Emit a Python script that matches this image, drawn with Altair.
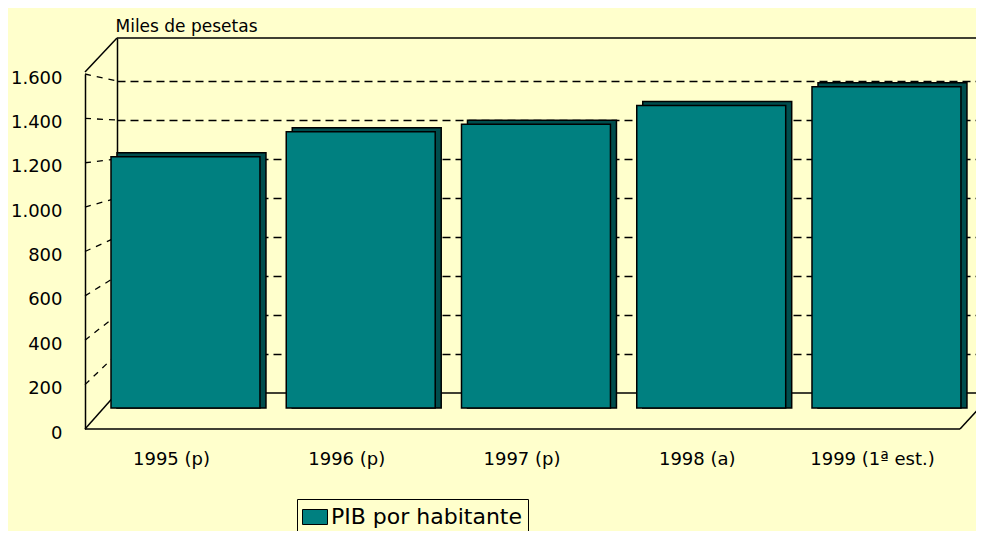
import altair as alt
import pandas as pd

# ---- data ----
years = ["1995 (p)", "1996 (p)", "1997 (p)", "1998 (a)", "1999 (1ª est.)"]
pib = [1220, 1340, 1375, 1465, 1555]
series_name = "PIB por habitante"
y_ticks = [0, 200, 400, 600, 800, 1000, 1200, 1400, 1600]
grid_ticks = [200, 400, 600, 800, 1000, 1200, 1400, 1600]
y_title = "Miles de pesetas"

bars_df = pd.DataFrame({"year": years, "pib": pib, "serie": [series_name] * len(years)})
ticks_df = pd.DataFrame({"v": y_ticks})
grid_df = pd.DataFrame({"v": grid_ticks})
floor_df = pd.DataFrame({"v": [0]})

BG = "#FFFFCC"
TEAL = "#008080"
DARK = "#004D4D"
W, H = 859, 355
FONT = "DejaVu Sans"
FRAME_W = 1.5
DEPTH = 36           # px between front and back floor
BACK_RATIO = 0.8788  # back-wall scale relative to front scale (perspective)

x_enc = alt.X(
    "year:N",
    sort=years,
    scale=alt.Scale(paddingInner=0.15, paddingOuter=0.0258, align=0),
    axis=alt.Axis(
        title=None, orient="bottom", offset=DEPTH, position=-32, labelAngle=0,
        ticks=False, domain=False, labelPadding=21, labelOffset=12,
        labelFont=FONT, labelFontSize=18, labelColor="black",
    ),
)

# back wall: dashed gridlines, left edge, floor line, unit title
back = alt.Chart(floor_df).mark_rule(color="black", strokeWidth=FRAME_W).encode(
    y=alt.Y(
        "v:Q",
        scale=alt.Scale(domain=[0, 1820.5], nice=False, zero=False),
        axis=alt.Axis(
            values=grid_ticks, labels=False, ticks=False, grid=True,
            gridDash=[8, 5], gridColor="black", gridWidth=1.6, gridOpacity=1,
            domain=True, domainColor="black", domainWidth=FRAME_W,
            title=y_title, titleAngle=0, titleAlign="left", titleBaseline="alphabetic",
            titleX=-2, titleY=-7, titleFont=FONT, titleFontSize=17,
            titleFontWeight="normal", titleColor="black",
        ),
    )
)

# front value axis
front_scale = alt.Scale(domain=[0, 1600], nice=False, zero=False)
front = alt.Chart(ticks_df).mark_rule(opacity=0).encode(
    y=alt.Y(
        "v:Q",
        scale=front_scale,
        axis=alt.Axis(
            orient="left", values=y_ticks, offset=32, position=DEPTH, grid=False,
            ticks=False, labelPadding=23, labelOffset=4,
            domainColor="black", domainWidth=FRAME_W,
            labelExpr="replace(format(datum.value, ','), ',', '.')",
            labelFont=FONT, labelFontSize=18, labelColor="black", title=None,
        ),
    )
)

# side wall: dashed gridlines from the front axis to the back wall
side = (
    alt.Chart(grid_df)
    .transform_calculate(vb=f"datum.v * {BACK_RATIO}")
    .mark_rule(color="black", strokeWidth=1.3, strokeDash=[6, 6], yOffset=DEPTH)
    .encode(
        x=alt.value(-32),
        x2=alt.value(0),
        y=alt.Y("v:Q", scale=front_scale, axis=None),
        y2="vb:Q",
    )
)

one = alt.Data(values=[{}])
top_line = alt.Chart(one).mark_rule(color="black", strokeWidth=FRAME_W).encode(y=alt.value(0))


def frame_edge(x1, y1, x2, y2):
    return alt.Chart(one).mark_rule(color="black", strokeWidth=FRAME_W).encode(
        x=alt.value(x1), y=alt.value(y1), x2=alt.value(x2), y2=alt.value(y2)
    )


edges = [
    frame_edge(-32, 34, 0, 0),        # top-left corner of the box
    frame_edge(-32, 391, 0, 355),     # bottom-left corner
    frame_edge(-32, 391, 843, 391),   # front floor edge
    frame_edge(843, 391, 876, 355),   # bottom-right corner
]

bar_scale = alt.Scale(domain=[71.7, 1768.6], nice=False, zero=False)

back_bars = alt.Chart(bars_df).mark_bar(color=DARK, stroke="black", strokeWidth=1.5).encode(
    x=x_enc,
    y=alt.Y("pib:Q", scale=bar_scale, axis=None),
    y2=alt.datum(0),
)

front_bars = alt.Chart(bars_df).mark_bar(
    xOffset=-6, yOffset=4, stroke="black", strokeWidth=1.5
).encode(
    x=x_enc,
    y=alt.Y("pib:Q", scale=bar_scale, axis=None),
    y2=alt.datum(0),
    color=alt.Color(
        "serie:N",
        scale=alt.Scale(range=[TEAL]),
        legend=alt.Legend(
            title=None, orient="none", legendX=180, legendY=461,
            strokeColor="black", padding=5, fillColor=BG,
            symbolType="M-1,-0.6H1V0.6H-1Z", symbolSize=625,
            symbolStrokeColor="black", symbolStrokeWidth=1, symbolOpacity=1,
            labelFont=FONT, labelFontSize=22, labelColor="black",
            labelOffset=3, labelLimit=0,
        ),
    ),
)

chart = (
    alt.layer(top_line, back, front, side, *edges, back_bars, front_bars)
    .resolve_scale(y="independent")
    .properties(
        width=W,
        height=H,
        padding={"left": 109, "top": 30, "right": 0, "bottom": 138},
        autosize=alt.AutoSizeParams(type="none"),
        background=BG,
    )
    .configure_view(stroke=None)
)

chart.save("out.html", embed_options={"renderer": "svg", "actions": False})
